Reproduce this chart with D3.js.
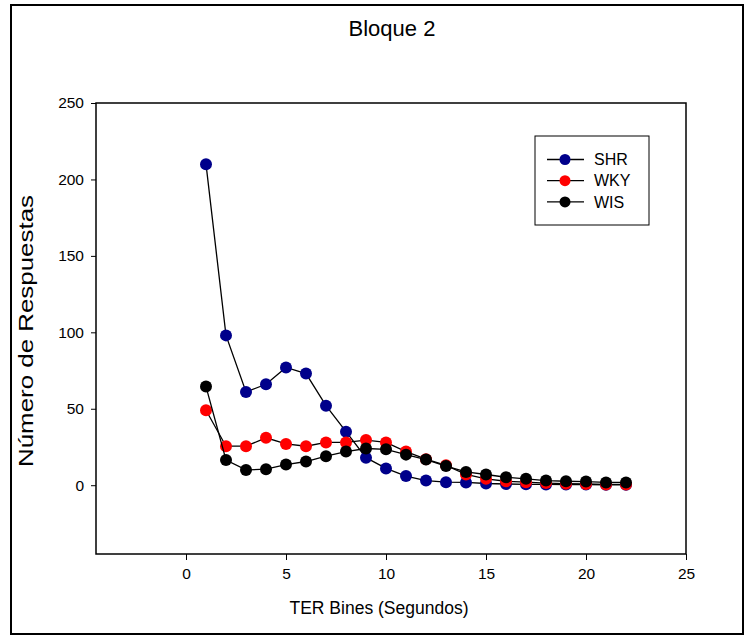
<!DOCTYPE html>
<html>
<head>
<meta charset="utf-8">
<script src="https://cdn.jsdelivr.net/npm/d3@7"></script>
<style>
  body { margin: 0; background: #fff; }
  svg text { font-family: "Liberation Sans", Arial, sans-serif; fill: #000; }
</style>
</head>
<body>
<svg width="751" height="635"></svg>
<script>
// data
var bins = [1,2,3,4,5,6,7,8,9,10,11,12,13,14,15,16,17,18,19,20,21,22];
var shr = [210,98,61,66,77,73,52,35,18,11,6,3,2,1.8,1.1,0.8,0.6,0.5,0.4,0.4,0.3,0.3];
var wky = [49,25.5,25.5,31,27,25.5,28,28,29.5,28,22,17,13,7,4.2,2.6,2,1.4,1,0.8,0.5,0.5];
var wis = [64.5,16.5,10,10.5,13.5,15.5,19,22,24,23.5,20,16.8,12.5,8.7,7,5.2,4.2,3,2.6,2.4,1.8,1.8];
var seriesNames = ["SHR","WKY","WIS"];
var seriesColors = ["#00008b","#ff0000","#000000"];
var xTicks = [0,5,10,15,20,25];
var yTicks = [0,50,100,150,200,250];

var svg = d3.select("svg");
var margin = {top: 103, right: 65, bottom: 81, left: 96},
    width = 751 - margin.left - margin.right,
    height = 635 - margin.top - margin.bottom;

// outer frame
svg.append("rect")
    .attr("x", 11).attr("y", 5)
    .attr("width", 732).attr("height", 629)
    .attr("fill", "none").attr("stroke", "#000").attr("stroke-width", 2);

svg.append("text")
    .attr("x", 392).attr("y", 36)
    .attr("text-anchor", "middle")
    .style("font-size", "22px")
    .text("Bloque 2");

var x = d3.scaleLinear().domain([-4.5, 25]).range([0, width]);
var y = d3.scaleLinear().domain([-45, 250]).range([height, 0]);

var g = svg.append("g")
    .attr("transform", "translate(" + margin.left + "," + margin.top + ")");

g.append("rect")
    .attr("width", width).attr("height", height)
    .attr("fill", "none").attr("stroke", "#000").attr("stroke-width", 1.5);

var xAxis = d3.axisBottom(x).tickValues(xTicks).tickSize(6).tickPadding(8);
var yAxis = d3.axisLeft(y).tickValues(yTicks).tickSize(5).tickPadding(7);

g.append("g")
    .attr("class", "x axis")
    .attr("transform", "translate(0," + height + ")")
    .call(xAxis);

g.append("g")
    .attr("class", "y axis")
    .call(yAxis);

g.selectAll(".axis .domain").remove();
g.selectAll(".axis text").style("font-size", "15.5px").style("font-family", "Liberation Sans, Arial, sans-serif");
g.selectAll(".axis line").attr("stroke", "#000");

svg.append("text")
    .attr("x", 379).attr("y", 614)
    .attr("text-anchor", "middle")
    .style("font-size", "17.5px")
    .text("TER Bines (Segundos)");

svg.append("text")
    .attr("transform", "translate(33," + 331 + ") rotate(-90)")
    .attr("text-anchor", "middle")
    .attr("textLength", 272)
    .attr("lengthAdjust", "spacingAndGlyphs")
    .style("font-size", "20px")
    .text("Número de Respuestas");

var data = [shr, wky, wis].map(function(vals, i) {
    return {name: seriesNames[i], color: seriesColors[i],
            values: vals.map(function(v, j) { return {x: bins[j], y: v}; })};
});

var line = d3.line()
    .x(function(d) { return x(d.x); })
    .y(function(d) { return y(d.y); });

var series = g.selectAll(".series")
    .data(data)
    .enter().append("g")
    .attr("class", "series");

series.append("path")
    .attr("d", function(d) { return line(d.values); })
    .attr("fill", "none")
    .attr("stroke", "#000")
    .attr("stroke-width", 1.3);

series.selectAll("circle")
    .data(function(d) { return d.values.map(function(p) { return {x: p.x, y: p.y, color: d.color}; }); })
    .enter().append("circle")
    .attr("cx", function(d) { return x(d.x); })
    .attr("cy", function(d) { return y(d.y); })
    .attr("r", 6)
    .attr("fill", function(d) { return d.color; });

//Legend
var legend = svg.append("g").attr("transform", "translate(535,136)");
legend.append("rect")
    .attr("width", 114).attr("height", 89)
    .attr("fill", "#fff").attr("stroke", "#000").attr("stroke-width", 1);

var item = legend.selectAll(".legend")
    .data(data)
    .enter().append("g")
    .attr("class", "legend")
    .attr("transform", function(d, i) { return "translate(0," + (23.5 + i * 21.2) + ")"; });

item.append("line")
    .attr("x1", 12).attr("x2", 49)
    .attr("stroke", "#000").attr("stroke-width", 1.3);

item.append("circle")
    .attr("cx", 30).attr("r", 5.5)
    .attr("fill", function(d) { return d.color; });

item.append("text")
    .attr("x", 59).attr("dy", "0.36em")
    .style("font-size", "16px")
    .text(function(d) { return d.name; });
</script>
</body>
</html>
